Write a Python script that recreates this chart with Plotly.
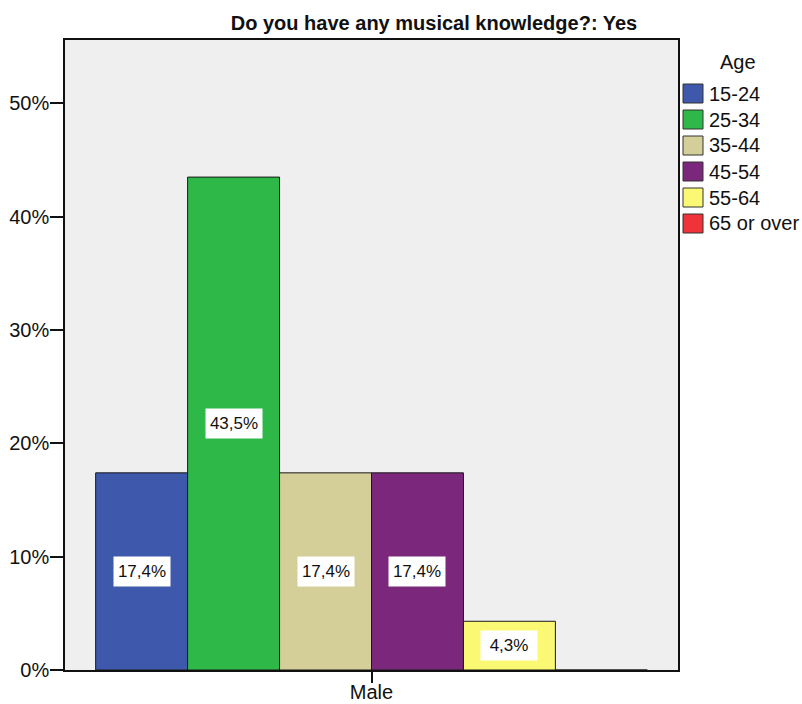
import plotly.graph_objects as go

# Data: share of respondents with musical knowledge, by age group (Male)
categories = ["Male"]
age_groups = ["15-24", "25-34", "35-44", "45-54", "55-64", "65 or over"]
percent = [17.4, 43.5, 17.4, 17.4, 4.3, 0.0]
colors = ["#3E58AC", "#2EB848", "#D4CE99", "#7B287C", "#FBF873", "#EF3338"]
y_ticks = [0, 10, 20, 30, 40, 50]
y_tick_labels = [f"{v}%" for v in y_ticks]

W, H = 802, 704
M_L, M_R, M_T, M_B = 65, 124, 40, 34
PLOT_W = W - M_L - M_R
PLOT_H = H - M_T - M_B
BARGAP = 0.1
FONT = "Liberation Sans, Arial, sans-serif"


def px_x(px):
    return (px - M_L) / PLOT_W


def px_y(py):
    return (H - M_B - py) / PLOT_H


fig = go.Figure()
for name, val, col in zip(age_groups, percent, colors):
    fig.add_trace(go.Bar(
        x=categories, y=[val], name=name,
        marker=dict(color=col, line=dict(color="#1a1a1a", width=1)),
        showlegend=False, hoverinfo="skip",
    ))

# White value boxes centred inside each bar
n = len(age_groups)
slot = (1 - BARGAP) / n
for i, val in enumerate(percent):
    if val <= 0:
        continue
    fig.add_annotation(
        x=-(1 - BARGAP) / 2 + slot * (i + 0.5), y=val / 2,
        xref="x", yref="y", showarrow=False,
        text=f"{val:.1f}%".replace(".", ","),
        font=dict(family=FONT, size=17, color="#111"),
        bgcolor="white", width=48, height=21, borderpad=4,
    )

# Legend with square swatches
fig.add_annotation(
    x=px_x(738), y=px_y(62), xref="paper", yref="paper",
    text="Age", showarrow=False, xanchor="center", yanchor="middle",
    font=dict(family=FONT, size=20, color="#111"),
)
for i, (name, col) in enumerate(zip(age_groups, colors)):
    cy = 93.5 + 26 * i
    fig.add_shape(
        type="rect", xref="paper", yref="paper",
        x0=px_x(683), x1=px_x(703), y0=px_y(cy - 9.5), y1=px_y(cy + 9.5),
        fillcolor=col, line=dict(color="#333", width=1),
    )
    fig.add_annotation(
        x=px_x(707), y=px_y(cy), xref="paper", yref="paper",
        text=name, showarrow=False, xanchor="left", yanchor="middle",
        font=dict(family=FONT, size=20, color="#111"),
    )

fig.update_layout(
    width=W, height=H,
    margin=dict(l=M_L, r=M_R, t=M_T, b=M_B, autoexpand=False),
    paper_bgcolor="white", plot_bgcolor="#EFEFEF",
    barmode="group", bargap=BARGAP, bargroupgap=0,
    title=dict(
        text="<b>Do you have any musical knowledge?: Yes</b>",
        x=px_x(434), xref="paper", xanchor="center",
        y=1 - 22.5 / H, yref="container", yanchor="middle",
        font=dict(family=FONT, size=20, color="#111"),
    ),
    font=dict(family=FONT, size=20, color="#111"),
    showlegend=False,
)
fig.update_yaxes(
    range=[0, 55.6], tickmode="array", tickvals=y_ticks, ticktext=y_tick_labels,
    ticks="outside", ticklen=13, tickwidth=2, tickcolor="#111",
    ticklabelstandoff=-3,
    showgrid=False, zeroline=False, automargin=False,
    showline=True, linecolor="#111", linewidth=1.5, mirror=True,
    tickfont=dict(family=FONT, size=20, color="#111"),
)
fig.update_xaxes(
    ticks="outside", ticklen=11, tickwidth=2, tickcolor="#111",
    ticklabelstandoff=-8,
    showgrid=False, showline=True, linecolor="#111", linewidth=1.5, mirror=True,
    automargin=False,
    tickfont=dict(family=FONT, size=20, color="#111"),
)

fig.write_html("out.html")
